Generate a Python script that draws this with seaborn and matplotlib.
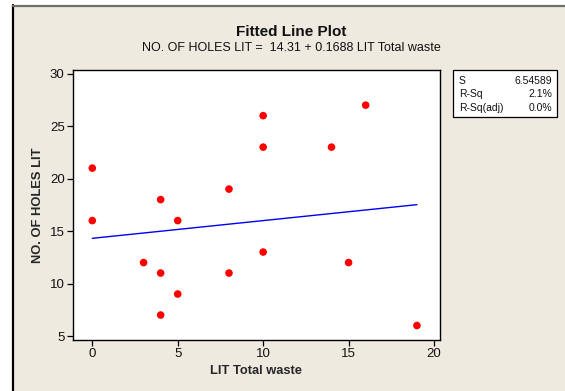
import matplotlib
matplotlib.use("Agg")
import matplotlib.pyplot as plt
import matplotlib.patches as mpatches
import numpy as np
import pandas as pd
import seaborn as sns

# Observations
lit_total_waste = [0, 0, 3, 4, 4, 4, 5, 5, 8, 8, 10, 10, 10, 14, 15, 16, 19]
no_of_holes_lit = [21, 16, 12, 18, 11, 7, 16, 9, 19, 11, 26, 23, 13, 23, 12, 27, 6]

# Regression results
intercept = 14.31
slope = 0.1688
stats_labels = ["S", "R-Sq", "R-Sq(adj)"]
stats_values = ["6.54589", "2.1%", "0.0%"]

x_ticks = [0, 5, 10, 15, 20]
y_ticks = [5, 10, 15, 20, 25, 30]

df = pd.DataFrame({"x": lit_total_waste, "y": no_of_holes_lit})
x_fit = np.array([min(lit_total_waste), max(lit_total_waste)], dtype=float)
fit_df = pd.DataFrame({"x": x_fit, "y": intercept + slope * x_fit})

sns.set_theme(style="white")
plt.rcParams["font.family"] = ["Liberation Sans", "DejaVu Sans"]

BEIGE = "#EEEAE0"
W, H = 565, 391
fig = plt.figure(figsize=(W / 100, H / 100), dpi=100, facecolor="white")

# Beige panel with a dark left edge and grey top edge
fig.patches.append(mpatches.Rectangle((13 / W, 0), 1 - 13 / W, (H - 6) / H,
                                      transform=fig.transFigure, facecolor=BEIGE,
                                      edgecolor="none", zorder=-10))
fig.add_artist(plt.Line2D([13 / W, 13 / W], [0, (H - 5) / H], transform=fig.transFigure,
                          color="black", lw=1.6))
fig.add_artist(plt.Line2D([13 / W, 1], [(H - 5.5) / H, (H - 5.5) / H], transform=fig.transFigure,
                          color="#707070", lw=1.6))

left, right, top, bottom = 73, 440, 70, 340
ax = fig.add_axes([left / W, 1 - bottom / H, (right - left) / W, (bottom - top) / H])
ax.set_zorder(5)
ax.set_facecolor("white")

sns.lineplot(data=fit_df, x="x", y="y", ax=ax, color="#0000EE", lw=1.0, zorder=2)
sns.scatterplot(data=df, x="x", y="y", ax=ax, color="#FF0000", s=30,
                edgecolor="none", zorder=3)

ax.set_xlim(-1.13, 20.35)
ax.set_ylim(4.62, 30.35)
ax.set_xticks(x_ticks)
ax.set_yticks(y_ticks)
ax.tick_params(axis="both", direction="out", length=4, width=0.9, color="black",
               labelsize=9.5, labelcolor="#111111", pad=2, left=True, bottom=True)
for sp in ax.spines.values():
    sp.set_color("black")
    sp.set_linewidth(1.0)

ax.set_xlabel("LIT Total waste", fontsize=9.3, fontweight="bold", labelpad=3)
ax.set_ylabel("NO. OF HOLES LIT", fontsize=9.3, fontweight="bold", labelpad=4)

fig.text(291 / W, 1 - 32 / H, "Fitted Line Plot", ha="center", va="center",
         fontsize=11, fontweight="bold", color="#111111")
fig.text(291 / W, 1 - 48 / H,
         f"NO. OF HOLES LIT =  {intercept:.2f} + {slope:.4f} LIT Total waste",
         ha="center", va="center", fontsize=9, color="#111111")

# Summary statistics box
bx0, bx1, by0, by1 = 453, 557, 70, 117
fig.patches.append(mpatches.Rectangle((bx0 / W, 1 - by1 / H), (bx1 - bx0) / W, (by1 - by0) / H,
                                      transform=fig.transFigure, facecolor="white",
                                      edgecolor="black", lw=0.9, zorder=1))
rows_y = [81, 94, 108]
for lab, val, yy in zip(stats_labels, stats_values, rows_y):
    fig.text(459 / W, 1 - yy / H, lab, ha="left", va="center", fontsize=7.5, color="#111111")
    fig.text(552 / W, 1 - yy / H, val, ha="right", va="center", fontsize=7.5, color="#111111")

fig.savefig("out.png", dpi=100, facecolor="white")
